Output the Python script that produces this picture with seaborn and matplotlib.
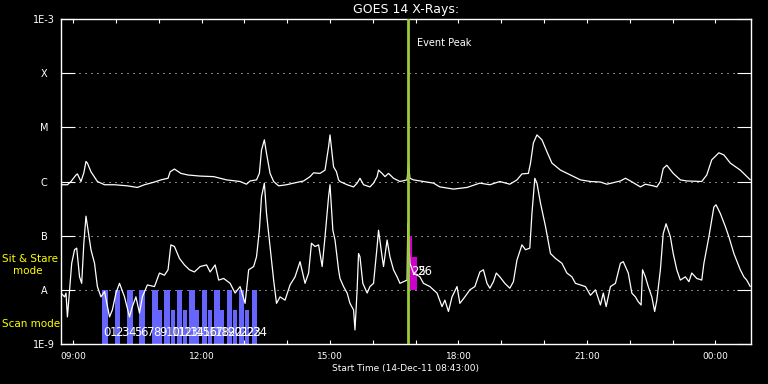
import numpy as np
import pandas as pd
import matplotlib
matplotlib.use("Agg")
import matplotlib.pyplot as plt
from matplotlib.ticker import NullLocator
import seaborn as sns

# ---------------- data (time = minutes after 14-Dec-11 08:43:00) ----------------
long_t = [0, 9, 14, 21, 23, 28, 32, 35, 37, 42, 51, 61, 75, 93, 107, 117, 131, 140, 150, 153,
          159, 168, 178, 195, 214, 232, 251, 260, 265, 274, 278, 281, 285, 288, 293, 298, 305,
          316, 326, 340, 349, 354, 363, 370, 375, 377, 382, 386, 389, 391, 401, 410, 415, 419,
          424, 433, 438, 443, 445, 450, 454, 459, 466, 475, 485, 487, 489, 494, 508, 522, 531,
          550, 569, 587, 601, 615, 629, 639, 646, 655, 658, 662, 667, 674, 681, 688, 700, 714,
          728, 742, 756, 765, 784, 791, 798, 812, 819, 830, 835, 840, 844, 849, 858, 868, 877,
          898, 905, 912, 922, 929, 938, 952, 966]
long_log = [-6.06, -6.06, -6.00, -5.88, -5.86, -6.00, -5.84, -5.63, -5.66, -5.82, -6.00, -6.06,
            -6.06, -6.08, -6.11, -6.06, -6.01, -5.97, -5.94, -5.82, -5.77, -5.85, -5.88, -5.90,
            -5.91, -5.97, -6.00, -6.05, -5.99, -5.97, -5.85, -5.42, -5.23, -5.48, -5.85, -6.00,
            -6.08, -6.06, -6.03, -5.99, -5.91, -5.84, -5.85, -5.79, -5.36, -5.14, -5.73, -5.82,
            -5.97, -6.00, -6.06, -6.10, -6.03, -5.94, -6.06, -6.10, -6.03, -5.91, -5.79, -5.85,
            -5.91, -5.85, -5.94, -6.00, -5.97, -5.66, -5.94, -5.97, -6.00, -6.03, -6.10, -6.14,
            -6.11, -6.03, -6.06, -6.00, -6.05, -5.97, -5.86, -5.85, -5.66, -5.29, -5.14, -5.23,
            -5.45, -5.66, -5.79, -5.88, -5.97, -6.00, -6.01, -6.05, -5.99, -5.94, -5.99, -6.10,
            -6.05, -6.08, -6.10, -6.00, -5.76, -5.70, -5.85, -5.97, -5.99, -6.00, -5.88, -5.60,
            -5.47, -5.51, -5.66, -5.79, -5.97]

short_t = [0, 5, 7, 9, 12, 15, 19, 22, 26, 29, 32, 35, 38, 42, 47, 51, 56, 61, 68, 72, 77, 82,
           89, 96, 100, 105, 110, 114, 121, 131, 138, 145, 150, 154, 159, 166, 173, 180, 187,
           195, 204, 209, 216, 221, 228, 237, 244, 251, 258, 263, 270, 274, 278, 281, 285, 288,
           293, 298, 302, 307, 314, 321, 328, 335, 342, 347, 351, 356, 361, 366, 370, 375, 377,
           381, 384, 389, 391, 396, 401, 405, 410, 412, 415, 417, 419, 423, 429, 433, 438, 443,
           445, 450, 452, 457, 461, 466, 471, 475, 480, 485, 486, 489, 494, 503, 508, 517, 527,
           534, 538, 543, 548, 555, 559, 566, 573, 580, 587, 592, 597, 601, 606, 610, 615, 622,
           629, 634, 639, 646, 651, 657, 660, 664, 667, 672, 679, 686, 693, 702, 709, 716, 721,
           728, 735, 742, 749, 756, 760, 764, 770, 777, 784, 788, 795, 800, 805, 809, 813, 815,
           819, 823, 828, 832, 835, 840, 844, 848, 854, 858, 863, 868, 875, 880, 884, 891, 898,
           901, 908, 915, 918, 924, 931, 936, 943, 952, 957, 961, 966]
short_log = [-8.06, -8.13, -8.06, -8.50, -8.00, -7.51, -7.26, -7.23, -7.76, -7.88, -7.14, -6.64,
             -6.90, -7.26, -7.51, -7.94, -8.13, -8.03, -8.50, -8.37, -8.06, -7.88, -8.13, -8.50,
             -8.31, -8.13, -8.43, -8.13, -7.91, -7.94, -7.69, -7.73, -7.63, -7.17, -7.20, -7.42,
             -7.54, -7.63, -7.67, -7.57, -7.54, -7.67, -7.54, -7.82, -7.79, -7.88, -8.06, -7.94,
             -8.25, -7.63, -7.57, -7.39, -6.90, -6.28, -6.03, -6.59, -7.20, -7.82, -8.25, -8.13,
             -8.19, -7.91, -7.76, -7.48, -7.88, -7.69, -7.14, -7.20, -7.17, -7.57, -7.02, -6.28,
             -6.06, -6.90, -7.08, -7.63, -7.79, -7.94, -8.06, -8.25, -8.37, -8.74, -8.00, -7.33,
             -7.39, -7.88, -8.06, -7.94, -7.88, -7.20, -6.90, -7.39, -7.57, -7.08, -7.39, -7.63,
             -7.76, -7.88, -7.85, -7.82, -6.77, -7.51, -7.69, -7.76, -7.88, -7.94, -8.06, -8.31,
             -8.19, -8.40, -8.13, -7.94, -8.25, -8.13, -8.00, -7.94, -7.67, -7.63, -7.88, -7.97,
             -7.85, -7.69, -7.76, -7.88, -7.97, -7.85, -7.45, -7.17, -7.26, -7.23, -6.59, -5.94,
             -6.03, -6.40, -6.83, -7.33, -7.42, -7.51, -7.69, -7.76, -7.88, -7.91, -7.94, -8.10,
             -8.00, -8.28, -8.06, -8.31, -7.94, -7.88, -7.51, -7.48, -7.69, -8.06, -8.13, -8.22,
             -8.28, -7.63, -7.76, -7.94, -8.13, -8.40, -8.19, -7.63, -6.96, -6.78, -7.02, -7.33,
             -7.63, -7.82, -7.76, -7.85, -7.69, -7.79, -7.82, -7.51, -7.02, -6.47, -6.43, -6.59,
             -6.83, -7.02, -7.33, -7.63, -7.76, -7.82, -7.94]

level_names = ["1E-9", "A", "B", "C", "M", "X", "1E-3"]
level_flux = [1e-9, 1e-8, 1e-7, 1e-6, 1e-5, 1e-4, 1e-3]

# scan-mode observations (start minute, duration, top flux)
scan_ids = list(range(25))
scan_start = [58, 67, 75, 84, 93, 101, 110, 119, 128, 136, 145, 154, 162, 171, 180, 188,
              197, 206, 215, 223, 232, 241, 249, 258, 267]
scan_dur = [8, 6, 8, 6, 8, 6, 8, 6, 8, 6, 8, 6, 8, 6, 8, 6, 8, 6, 8, 6, 8, 6, 8, 6, 8]
scan_top = [1e-8, 1e-9, 1e-8, 1e-9, 1e-8, 1e-9, 1e-8, 1e-9, 1e-8, 4.3e-9, 1e-8, 4.3e-9,
            1e-8, 4.3e-9, 1e-8, 4.3e-9, 1e-8, 4.3e-9, 1e-8, 4.3e-9, 1e-8, 4.3e-9, 1e-8,
            4.3e-9, 1e-8]

# sit & stare observations
stare_ids = [25, 26]
stare_start = [488, 492]
stare_dur = [4, 7]
stare_top = [1e-7, 4.1e-8]

event_peak_min = 486.5

hour_ticks = [17 + 60 * i for i in range(16)]
hour_labels = ["09:00", "", "", "12:00", "", "", "15:00", "", "", "18:00", "", "",
               "21:00", "", "", "00:00"]

# ---------------- styling ----------------
sns.set_theme(style="dark", rc={
    "figure.facecolor": "black", "axes.facecolor": "black", "axes.edgecolor": "white",
    "text.color": "white", "axes.labelcolor": "white", "xtick.color": "white",
    "ytick.color": "white", "axes.grid": False,
})
plt.rcParams["font.family"] = ["DejaVu Sans"]

fig = plt.figure(figsize=(7.68, 3.84), dpi=100)
ax = fig.add_axes([61 / 768, 1 - 344 / 384, 690 / 768, 325 / 384])
ax.set_facecolor("black")

long_df = pd.DataFrame({"t": long_t, "flux": 10.0 ** np.array(long_log)})
short_df = pd.DataFrame({"t": short_t, "flux": 10.0 ** np.array(short_log)})

ax.set_yscale("log")

# scan mode bars
for i, s, d, top in zip(scan_ids, scan_start, scan_dur, scan_top):
    ax.bar(s, top - 1e-9, bottom=1e-9, width=d, align="edge", color="#6666ff", linewidth=0, zorder=1)
# sit & stare bars
for i, s, d, top in zip(stare_ids, stare_start, stare_dur, stare_top):
    ax.bar(s, top - 1e-8, bottom=1e-8, width=d, align="edge", color="#cc00cc", linewidth=0, zorder=1)

# dotted level lines
for f in level_flux[1:-1]:
    ax.axhline(f, color="white", lw=0.72, ls=(0, (1, 5)), zorder=0)

sns.lineplot(data=long_df, x="t", y="flux", ax=ax, color="white", lw=0.9, estimator=None, zorder=3)
sns.lineplot(data=short_df, x="t", y="flux", ax=ax, color="white", lw=0.9, estimator=None, zorder=3)

ax.axvline(event_peak_min, color="#9acd32", lw=2, zorder=4)
ax.text(event_peak_min + 13, 10 ** -3.44, "Event Peak", color="white", fontsize=7, va="center")

for i, s in zip(scan_ids, scan_start):
    ax.text(s + 1, 10 ** -8.78, str(i), color="white", fontsize=8.5, ha="left", va="center", zorder=5)
for i, s in zip(stare_ids, stare_start):
    ax.text(s + 2 + (i - 25) * 5, 10 ** -7.67, str(i), color="white", fontsize=8.5,
            ha="left", va="center", zorder=5)

ax.set_xlim(0, 967)
ax.set_ylim(1e-9, 1e-3)
ax.set_xticks(hour_ticks, hour_labels)
ax.set_yticks(level_flux, level_names)
ax.yaxis.set_minor_locator(NullLocator())
ax.xaxis.set_minor_locator(NullLocator())
ax.tick_params(axis="x", direction="in", length=2.9, width=0.8, top=True, bottom=True,
               labelsize=6.5, pad=5.8, colors="white")
ax.tick_params(axis="y", direction="in", length=10, width=0.8, left=True, right=True,
               labelsize=7, pad=12.2, colors="white")
for lab in ax.get_yticklabels():
    lab.set_horizontalalignment("center")

for sp in ax.spines.values():
    sp.set_color("white")
    sp.set_linewidth(1.0)

ax.set_xlabel("Start Time (14-Dec-11 08:43:00)", fontsize=6.5, labelpad=2)
ax.set_ylabel("")
ax.set_title("GOES 14 X-Rays:", fontsize=9, color="white", pad=4)

fig.text(2 / 768, 1 - 259 / 384, "Sit & Stare", color="#ffff00", fontsize=7.5, va="center", ha="left")
fig.text(13 / 768, 1 - 271 / 384, "mode", color="#ffff00", fontsize=7.5, va="center", ha="left")
fig.text(2 / 768, 1 - 324 / 384, "Scan mode", color="#ffff00", fontsize=7.5, va="center", ha="left")

fig.savefig("out.png", dpi=100, facecolor="black")
